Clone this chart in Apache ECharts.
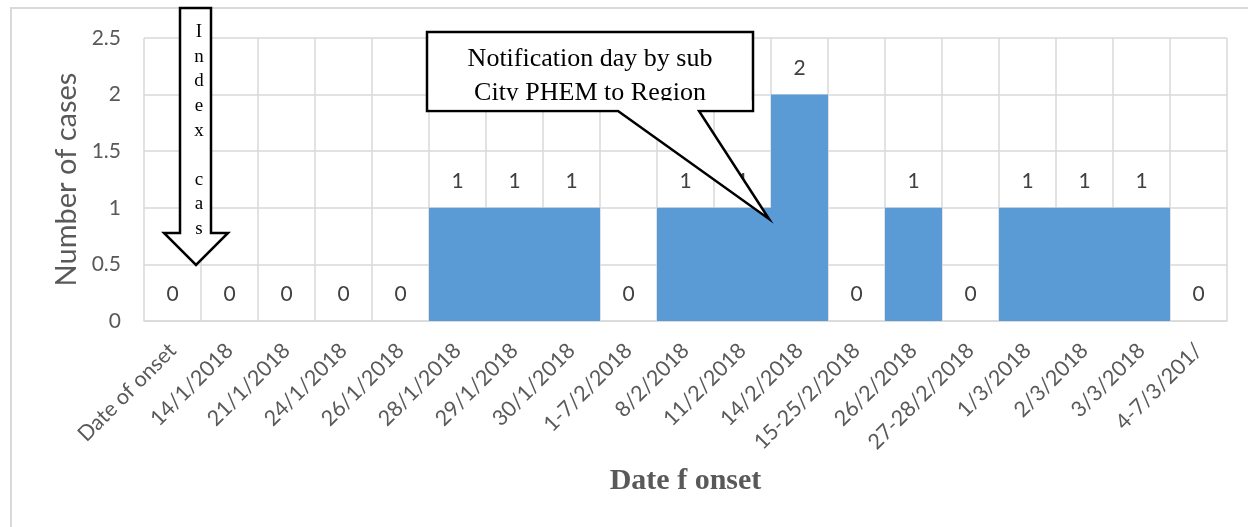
<!DOCTYPE html>
<html>
<head>
<meta charset="utf-8">
<title>Cases by date of onset</title>
<script src="https://cdn.jsdelivr.net/npm/echarts@6/dist/echarts.min.js"></script>
<style>
    html, body { margin: 0; padding: 0; background: #fff; }
    #chart { width: 1248px; height: 527px; }
</style>
</head>
<body>
<div id="chart"></div>
<script>
var categories = ['Date of onset', '14/1/2018', '21/1/2018', '24/1/2018', '26/1/2018', '28/1/2018',
    '29/1/2018', '30/1/2018', '1-7/2/2018', '8/2/2018', '11/2/2018', '14/2/2018', '15-25/2/2018',
    '26/2/2018', '27-28/2/2018', '1/3/2018', '2/3/2018', '3/3/2018', '4-7/3/201/'];
var cases = [0, 0, 0, 0, 0, 1, 1, 1, 0, 1, 1, 2, 0, 1, 0, 1, 1, 1, 0];
var yMin = 0;
var yMax = 2.5;
var yStep = 0.5;

var gridColor = '#d9d9d9';
var textColor = '#595959';
var barColor = '#5b9bd5';

var myChart = echarts.init(document.getElementById('chart'), null, {renderer: 'canvas'});

myChart.setOption({
    animation: false,
    backgroundColor: '#fff',
    // 19 bands of 57px so the bars land on whole pixels
    grid: {left: 144, right: 21, top: 38, bottom: 206},
    xAxis: {
        type: 'category',
        data: categories,
        name: 'Date f onset',
        nameLocation: 'middle',
        nameGap: 160,
        nameTextStyle: {
            fontFamily: 'Liberation Serif', fontWeight: 'bold', fontSize: 30,
            color: textColor, align: 'center', verticalAlign: 'middle'
        },
        axisLine: {lineStyle: {color: gridColor, width: 1.5}},
        axisTick: {show: false},
        axisLabel: {
            interval: 0, rotate: 45, margin: 26,
            fontFamily: 'Lato', fontSize: 21.5, color: textColor
        },
        splitLine: {show: true, lineStyle: {color: gridColor, width: 1.5}}
    },
    yAxis: {
        type: 'value',
        min: yMin,
        max: yMax,
        interval: yStep,
        name: 'Number of cases',
        nameLocation: 'middle',
        nameGap: 77,
        nameRotate: 90,
        nameTextStyle: {
            fontFamily: 'Lato', fontSize: 29, color: textColor,
            align: 'center', verticalAlign: 'middle'
        },
        axisLine: {show: false},
        axisTick: {show: false},
        axisLabel: {margin: 23, fontFamily: 'Lato', fontSize: 21, color: textColor},
        splitLine: {lineStyle: {color: gridColor, width: 1.5}}
    },
    series: [{
        type: 'bar',
        data: cases,
        barCategoryGap: '0%',
        itemStyle: {color: barColor},
        label: {
            show: true, position: 'top', distance: 16,
            fontFamily: 'Lato', fontSize: 21, color: '#404040'
        }
    }],
    graphic: [
        // outer chart border
        {
            type: 'rect', z: 0, silent: true,
            shape: {x: 11, y: 8, width: 1400, height: 700},
            style: {fill: null, stroke: gridColor, lineWidth: 2}
        },
        // index case arrow
        {
            type: 'polygon', z: 100,
            shape: {points: [[180, 8], [211, 8], [211, 233], [228, 233], [196, 265], [164, 233], [180, 233]]},
            style: {fill: '#fff', stroke: '#000', lineWidth: 2.5}
        },
        {
            type: 'text', z: 101, x: 199, y: 20,
            style: {
                text: 'I\nn\nd\ne\nx\n\nc\na\ns',
                font: '19px "Liberation Serif"', fill: '#000',
                align: 'center', verticalAlign: 'top', lineHeight: 24.6
            }
        },
        // notification callout
        {
            type: 'polygon', z: 100,
            shape: {points: [[427, 32], [753, 32], [753, 111], [699, 111], [769, 219], [618, 111], [427, 111]]},
            style: {fill: '#fff', stroke: '#000', lineWidth: 2.5}
        },
        {
            type: 'text', z: 101, x: 590, y: 42,
            style: {
                text: 'Notification day by sub\nCity PHEM to Region',
                font: '26px "Liberation Serif"', fill: '#000',
                align: 'center', verticalAlign: 'top', lineHeight: 34
            }
        },
        {
            type: 'rect', z: 102, silent: true,
            shape: {x: 429.5, y: 100.5, width: 322, height: 9},
            style: {fill: '#fff'}
        }
    ]
});
</script>
</body>
</html>
